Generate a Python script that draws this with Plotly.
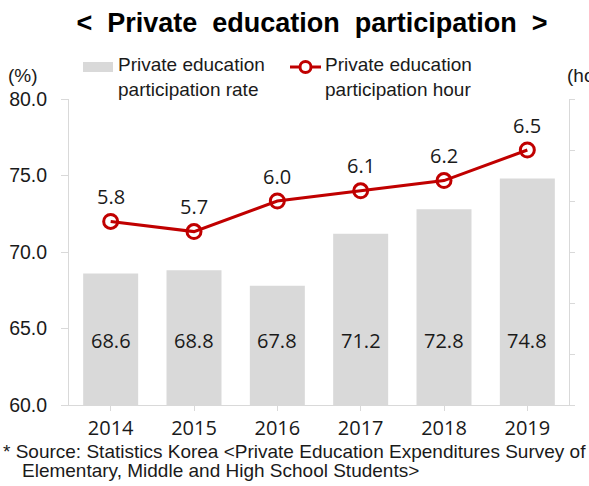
import plotly.graph_objects as go

# data
years = ["2014", "2015", "2016", "2017", "2018", "2019"]
participation_rate = [68.6, 68.8, 67.8, 71.2, 72.8, 74.8]      # %
participation_hour = [5.8, 5.7, 6.0, 6.1, 6.2, 6.5]            # hours per week
left_ticks = [60.0, 65.0, 70.0, 75.0, 80.0]

BAR_GREY = "#d9d9d9"
LINE_RED = "#c00000"
AXIS_GREY = "#d9d9d9"
TEXT = "#1a1a1a"
NUM_FONT = "Open Sans, sans-serif"
ARIAL = "Liberation Sans, Arial, sans-serif"

W, H = 589, 486
ML, MR, MT, MB = 69, 20, 99, 81
PW, PH = W - ML - MR, H - MT - MB


def px_x(px):
    return (px - ML) / PW


def px_y(py):
    return 1 - (py - MT) / PH


fig = go.Figure()

fig.add_trace(go.Bar(
    x=years, y=participation_rate,
    marker=dict(color=BAR_GREY, line_width=0),
    name="Private education participation rate",
    showlegend=False,
))

fig.add_trace(go.Scatter(
    x=years, y=participation_hour,
    yaxis="y2",
    mode="lines+markers",
    line=dict(color=LINE_RED, width=3),
    marker=dict(symbol="circle-open", size=14, color=LINE_RED,
                line=dict(color=LINE_RED, width=3)),
    name="Private education participation hour",
    showlegend=False,
))

annotations = []

# value labels inside the bars (sit at a fixed height near the bar bottoms)
for i, v in enumerate(participation_rate):
    annotations.append(dict(
        x=i, y=64.2, xref="x", yref="y", text=f"{v:.1f}", showarrow=False,
        font=dict(family=NUM_FONT, size=20, color=TEXT),
    ))

# value labels above the line markers
for i, v in enumerate(participation_hour):
    annotations.append(dict(
        x=i, y=v, xref="x", yref="y2", text=f"{v:.1f}", showarrow=False,
        yshift=25, font=dict(family=NUM_FONT, size=20, color=TEXT),
    ))

# axis unit labels
annotations.append(dict(
    x=px_x(6), y=px_y(75), xref="paper", yref="paper", text="(%)",
    xanchor="left", yanchor="middle", showarrow=False,
    font=dict(family=ARIAL, size=19, color=TEXT),
))
annotations.append(dict(
    x=px_x(565), y=px_y(75), xref="paper", yref="paper", text="(hour)",
    xanchor="left", yanchor="middle", showarrow=False,
    font=dict(family=ARIAL, size=19, color=TEXT),
))

# legend (drawn by hand to match the wide swatches)
annotations.append(dict(
    x=px_x(116), y=px_y(77), xref="paper", yref="paper",
    text="Private education<br>participation rate", align="left",
    xanchor="left", yanchor="middle", showarrow=False,
    font=dict(family=ARIAL, size=19, color=TEXT),
))
annotations.append(dict(
    x=px_x(323), y=px_y(77), xref="paper", yref="paper",
    text="Private education<br>participation hour", align="left",
    xanchor="left", yanchor="middle", showarrow=False,
    font=dict(family=ARIAL, size=19, color=TEXT),
))

# source note
annotations.append(dict(
    x=px_x(1), y=px_y(452), xref="paper", yref="paper",
    text="* Source: Statistics Korea &lt;Private Education Expenditures Survey of",
    xanchor="left", yanchor="middle", showarrow=False,
    font=dict(family=ARIAL, size=19, color=TEXT),
))
annotations.append(dict(
    x=px_x(20), y=px_y(471), xref="paper", yref="paper",
    text="Elementary, Middle and High School Students&gt;",
    xanchor="left", yanchor="middle", showarrow=False,
    font=dict(family=ARIAL, size=19, color=TEXT),
))

shapes = [
    dict(type="rect", xref="paper", yref="paper",
         x0=px_x(83), x1=px_x(113), y0=px_y(62), y1=px_y(72),
         fillcolor=BAR_GREY, line_width=0),
    dict(type="line", xref="paper", yref="paper",
         x0=px_x(290), x1=px_x(321), y0=px_y(67), y1=px_y(67),
         line=dict(color=LINE_RED, width=3)),
    dict(type="circle", xref="paper", yref="paper",
         x0=px_x(300), x1=px_x(311), y0=px_y(61.5), y1=px_y(72.5),
         fillcolor="white", line=dict(color=LINE_RED, width=3)),
]

nb = "\u00a0"
title_text = f"&lt;{nb}{nb}Private{nb}{nb}education{nb}{nb}participation{nb}{nb}&gt;"

fig.update_layout(
    width=W, height=H,
    margin=dict(l=ML, r=MR, t=MT, b=MB, autoexpand=False),
    plot_bgcolor="white", paper_bgcolor="white",
    title=dict(text=title_text, x=312 / W, xanchor="center",
               y=1 - 23 / H, yanchor="middle",
               font=dict(family=ARIAL, size=27, color="black", weight="bold")),
    bargap=0.34,
    showlegend=False,
    annotations=annotations,
    shapes=shapes,
    xaxis=dict(
        type="category", range=[-0.5, len(years) - 0.5],
        showline=True, linecolor=AXIS_GREY, linewidth=1,
        ticks="outside", ticklen=5, tickcolor=AXIS_GREY,
        tickfont=dict(family=NUM_FONT, size=20, color=TEXT),
        showgrid=False,
    ),
    yaxis=dict(
        range=[60, 80], tickvals=left_ticks,
        ticktext=[f"{t:.1f}" for t in left_ticks],
        showline=True, linecolor=AXIS_GREY, linewidth=1,
        ticks="outside", ticklen=7, tickcolor=AXIS_GREY,
        ticklabelstandoff=10,
        tickfont=dict(family=ARIAL, size=19.5, color=TEXT),
        showgrid=False, zeroline=False,
    ),
    yaxis2=dict(
        overlaying="y", side="right", range=[4.0, 7.0], dtick=0.5,
        showline=True, linecolor=AXIS_GREY, linewidth=1,
        ticks="outside", ticklen=5, tickcolor=AXIS_GREY,
        showticklabels=False, showgrid=False, zeroline=False,
    ),
)

# the page has the browser's default 8px body margin; remove it
fig.write_html("out.html", config={"displayModeBar": False},
               post_script="document.body.style.margin='0';")
